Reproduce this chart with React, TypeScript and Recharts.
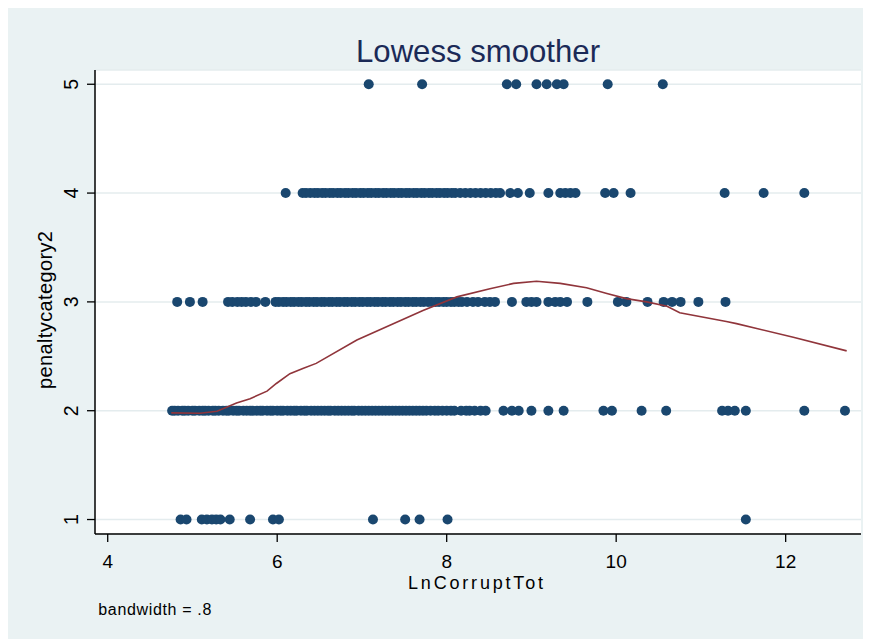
import React from 'react';
import { ScatterChart, Scatter, XAxis, YAxis, CartesianGrid } from 'recharts';

// LnCorruptTot values observed at each penalty category
const lnCorruptAt1 = [4.86, 4.93, 5.11, 5.17, 5.23, 5.28, 5.33, 5.44, 5.68, 5.95, 6.02, 7.13, 7.51, 7.68, 8.01, 11.53];
const lnCorruptAt2 = [
  4.76, 4.79, 4.83, 4.88, 4.91, 4.95, 5.0, 5.03, 5.08, 5.12, 5.15, 5.19, 5.24, 5.27, 5.31, 5.36, 5.4, 5.43,
  5.48, 5.52, 5.55, 5.6, 5.64, 5.68, 5.71, 5.76, 5.8, 5.83, 5.88, 5.92, 5.95, 6.0, 6.04, 6.07, 6.12, 6.16,
  6.2, 6.23, 6.28, 6.32, 6.35, 6.4, 6.44, 6.48, 6.52, 6.56, 6.6, 6.63, 6.68, 6.72, 6.76, 6.8, 6.84, 6.88,
  6.91, 6.96, 7.0, 7.04, 7.08, 7.12, 7.16, 7.2, 7.24, 7.28, 7.32, 7.36, 7.4, 7.44, 7.48, 7.52, 7.56, 7.6,
  7.64, 7.68, 7.72, 7.76, 7.81, 7.86, 7.9, 7.95, 8.0, 8.05, 8.09, 8.17, 8.23, 8.27, 8.33, 8.4, 8.46, 8.67,
  8.77, 8.85, 9.0, 9.2, 9.38, 9.85, 9.95, 10.3, 10.59, 11.25, 11.32, 11.4, 11.53, 12.22, 12.7,
];
const lnCorruptAt3 = [
  4.82, 4.97, 5.12, 5.42, 5.47, 5.53, 5.58, 5.63, 5.69, 5.75, 5.86, 5.98, 6.02, 6.07, 6.11, 6.16, 6.2,
  6.25, 6.29, 6.34, 6.38, 6.43, 6.47, 6.52, 6.56, 6.61, 6.65, 6.7, 6.74, 6.79, 6.83, 6.88, 6.92, 6.97,
  7.01, 7.06, 7.1, 7.15, 7.19, 7.24, 7.28, 7.33, 7.37, 7.42, 7.46, 7.51, 7.55, 7.6, 7.64, 7.69, 7.73,
  7.78, 7.82, 7.87, 7.91, 7.96, 8.0, 8.05, 8.09, 8.14, 8.18, 8.24, 8.31, 8.37, 8.45, 8.51, 8.57, 8.77,
  8.94, 9.0, 9.06, 9.2, 9.28, 9.34, 9.42, 9.66, 10.02, 10.12, 10.37, 10.56, 10.66, 10.76, 10.97, 11.29,
];
const lnCorruptAt4 = [
  6.1, 6.3, 6.34, 6.39, 6.44, 6.48, 6.53, 6.57, 6.62, 6.66, 6.71, 6.75, 6.8, 6.84, 6.89, 6.93, 6.98, 7.02,
  7.07, 7.11, 7.16, 7.2, 7.25, 7.29, 7.34, 7.38, 7.43, 7.47, 7.52, 7.56, 7.61, 7.65, 7.7, 7.74, 7.79,
  7.83, 7.88, 7.92, 7.97, 8.01, 8.06, 8.1, 8.16, 8.22, 8.28, 8.34, 8.4, 8.46, 8.52, 8.58, 8.63, 8.75,
  8.84, 8.98, 9.2, 9.34, 9.4, 9.46, 9.52, 9.87, 9.97, 10.17, 11.28, 11.74, 12.22,
];
const lnCorruptAt5 = [7.08, 7.71, 8.71, 8.82, 9.06, 9.18, 9.3, 9.38, 9.9, 10.55];

const penaltyCategories = [1, 2, 3, 4, 5];
const lnCorruptByCategory = [lnCorruptAt1, lnCorruptAt2, lnCorruptAt3, lnCorruptAt4, lnCorruptAt5];

// Lowess fit (bandwidth .8)
const lowessX = [
  4.75, 5.09, 5.29, 5.52, 5.68, 5.88, 5.99, 6.15, 6.31, 6.46, 6.94, 7.33, 7.72, 8.12, 8.51, 8.79, 9.06,
  9.34, 9.65, 9.89, 10.12, 10.36, 10.6, 10.75, 11.3, 11.42, 12.09, 12.72,
];
const lowessY = [
  1.98, 1.976, 1.995, 2.07, 2.11, 2.18, 2.25, 2.34, 2.39, 2.435, 2.65, 2.786, 2.92, 3.046, 3.12, 3.17,
  3.19, 3.17, 3.13, 3.078, 3.03, 3.0, 2.96, 2.9, 2.82, 2.8, 2.675, 2.55,
];

const xTicks = [4, 6, 8, 10, 12];
const yTicks = [1, 2, 3, 4, 5];

const scatterPoints = penaltyCategories.flatMap((cat, i) =>
  lnCorruptByCategory[i].map((x) => ({ x, y: cat }))
);
const lowessPoints = lowessX.map((x, i) => ({ x, y: lowessY[i] }));

const W = 863;
const H = 631;
const BG = '#EAF2F3';
const NAVY = '#1A476F';
const MAROON = '#90353B';
const FONT = '"Liberation Sans", Arial, Helvetica, sans-serif';

const Dot = (props: any) => <circle cx={props.cx} cy={props.cy} r={5} fill={NAVY} />;
const NoShape = () => <g />;

const XTick = (props: any) => (
  <text x={props.x} y={560} textAnchor="middle" fontSize={19} fill="#000" fontFamily={FONT}>
    {props.payload.value}
  </text>
);

const YTick = (props: any) => (
  <text
    x={70.3}
    y={props.y}
    transform={`rotate(-90, 70.3, ${props.y})`}
    textAnchor="middle"
    fontSize={19.5}
    fill="#000"
    fontFamily={FONT}
  >
    {props.payload.value}
  </text>
);

export default function App() {
  return (
    <div style={{ position: 'relative', width: W, height: H, background: BG, fontFamily: FONT }}>
      <ScatterChart width={W} height={H} margin={{ top: 62, right: 10, bottom: 45, left: 0 }}>
        <CartesianGrid vertical={false} stroke="#E4ECEE" strokeWidth={1.5} fill="#FFFFFF" fillOpacity={1} />
        <XAxis
          type="number"
          dataKey="x"
          domain={[3.85, 12.889]}
          ticks={xTicks}
          height={60}
          tickSize={8}
          axisLine={{ stroke: '#000', strokeWidth: 1.5 }}
          tickLine={{ stroke: '#000', strokeWidth: 1.3 }}
          tick={<XTick />}
          interval={0}
        />
        <YAxis
          type="number"
          dataKey="y"
          domain={[0.867, 5.131]}
          ticks={yTicks}
          width={87}
          tickSize={8}
          axisLine={{ stroke: '#000', strokeWidth: 1.5 }}
          tickLine={{ stroke: '#000', strokeWidth: 1.3 }}
          tick={<YTick />}
          interval={0}
        />
        <Scatter data={scatterPoints} shape={Dot} isAnimationActive={false} />
        <Scatter
          data={lowessPoints}
          shape={NoShape}
          line={{ stroke: MAROON, strokeWidth: 1.6 }}
          lineType="joint"
          isAnimationActive={false}
        />
      </ScatterChart>
      <svg
        width={W}
        height={H}
        style={{ position: 'absolute', left: 0, top: 0, pointerEvents: 'none' }}
        fontFamily={FONT}
      >
        <text x={470} y={54} textAnchor="middle" fontSize={32} fill="#1B2A57" textLength={244} lengthAdjust="spacingAndGlyphs">
          Lowess smoother
        </text>
        <text x={467.5} y={581} textAnchor="middle" fontSize={18} fill="#000" textLength={135} lengthAdjust="spacing">
          LnCorruptTot
        </text>
        <text
          x={44}
          y={302}
          transform="rotate(-90, 44, 302)"
          textAnchor="middle"
          fontSize={20}
          fill="#000"
          textLength={158}
          lengthAdjust="spacing"
        >
          penaltycategory2
        </text>
        <text x={90.3} y={607} fontSize={16} fill="#000" textLength={113} lengthAdjust="spacing">
          bandwidth = .8
        </text>
      </svg>
    </div>
  );
}
